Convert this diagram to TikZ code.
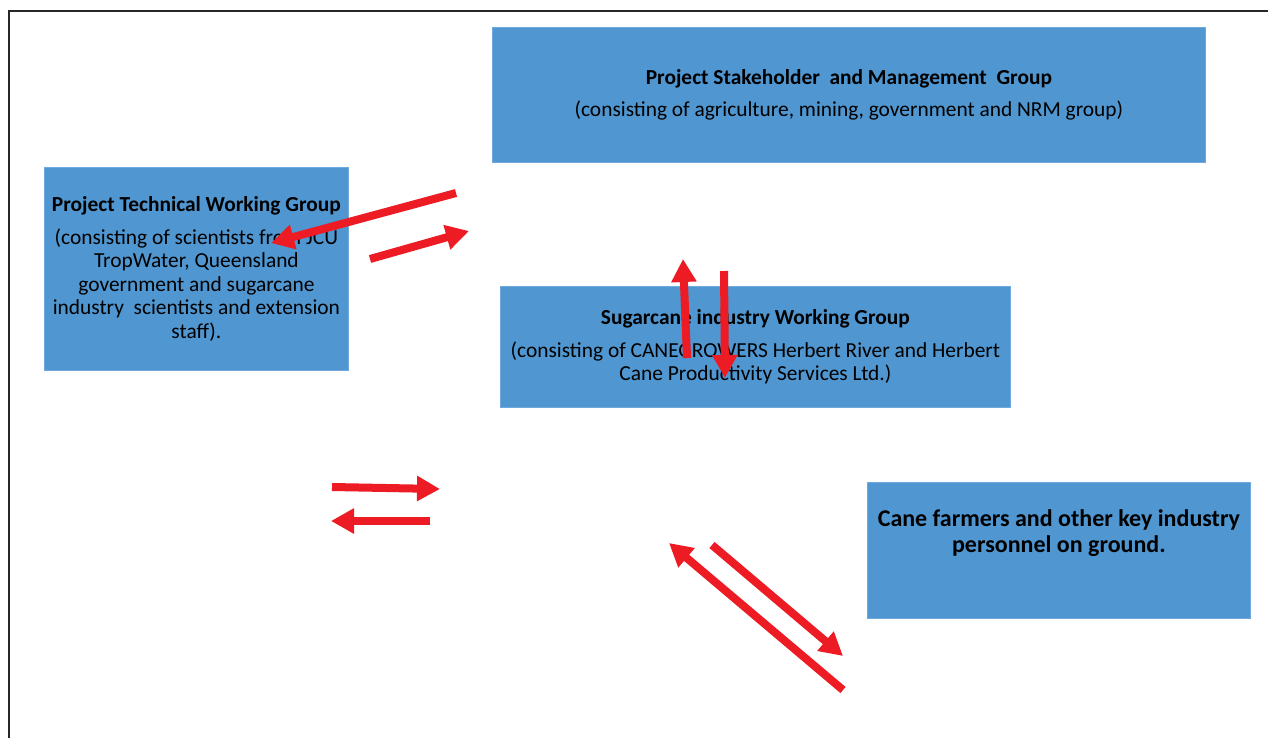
\documentclass[tikz,border=0pt]{standalone}
\usepackage{fontspec}
\setmainfont{Carlito}
\usetikzlibrary{arrows.meta}
\definecolor{boxblue}{RGB}{80,150,208}
\definecolor{boxedge}{RGB}{110,170,222}
\definecolor{arrred}{RGB}{237,28,36}
\begin{document}
\begin{tikzpicture}[x=1pt,y=-1pt,
  box/.style={draw=boxedge, line width=0.8pt, fill=boxblue, inner sep=0pt, align=center, anchor=north west, text=black, font=\fontsize{21.4}{23.5}\selectfont},
  flow/.style={draw=arrred, line width=8pt, -{Triangle[length=23pt,width=24pt]}}]
\useasboundingbox (0,0) rectangle (1268,738);
\fill[white] (0,0) rectangle (1268,738);
\draw[line width=2pt, black!85] (9,738) -- (9,11) -- (1268,11);

\node[box, minimum width=713pt, minimum height=135pt] (stake) at (492,27)
  {{\bfseries Project Stakeholder\ \ and Management\ \ Group}\\[9pt]
   (consisting of agriculture, mining, government and NRM group)};
\node[box, minimum width=304pt, minimum height=203pt] (tech) at (44,167)
  {{\bfseries Project Technical Working Group}\\[9pt]
   (consisting of scientists from JCU\\
   TropWater, Queensland\\
   government and sugarcane\\
   industry\ \ scientists and extension\\
   staff).};
\node[box, minimum width=510pt, minimum height=121pt] (sugar) at (500,286)
  {{\bfseries Sugarcane industry Working Group}\\[9pt]
   (consisting of CANEGROWERS Herbert River and Herbert\\
   Cane Productivity Services Ltd.)};
\node[box, minimum width=383pt, minimum height=136pt, font=\fontsize{24}{26}\selectfont\bfseries] (farm) at (867,482)
  {Cane farmers and other key industry\\
   personnel on ground.\\[12pt]~};

\coordinate (a1s) at (456,193); \coordinate (a1e) at (271,243);
\coordinate (a2s) at (370,259); \coordinate (a2e) at (469,231);
\coordinate (a3s) at (687,358); \coordinate (a3e) at (683,259);
\coordinate (a4s) at (724,271); \coordinate (a4e) at (725,378);
\coordinate (a5s) at (332,487); \coordinate (a5e) at (440,489);
\coordinate (a6s) at (430,521); \coordinate (a6e) at (331,521);
\coordinate (a7s) at (843,690); \coordinate (a7e) at (669,543);
\coordinate (a8s) at (712,545); \coordinate (a8e) at (843,656);

\foreach \i in {1,...,8} \draw[flow] (a\i s) -- (a\i e);
\end{tikzpicture}
\end{document}
